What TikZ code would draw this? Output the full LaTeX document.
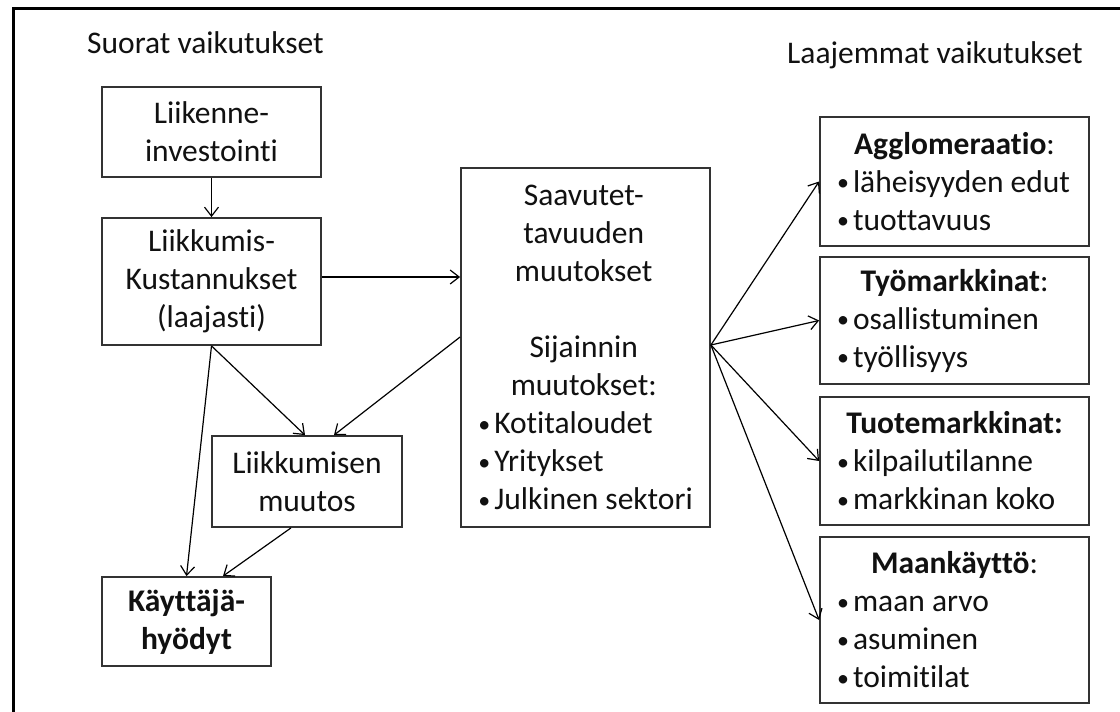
\documentclass[tikz,border=0pt]{standalone}
\usepackage{fontspec}
\setmainfont{Carlito}[Ligatures={NoCommon}]
\usetikzlibrary{arrows.meta}
\definecolor{boxgray}{HTML}{333333}
\definecolor{ink}{HTML}{111111}
\newcommand\mybul{\makebox[16pt][l]{\raisebox{1.5pt}{\fontsize{24}{24}\selectfont •}}}
\begin{document}
\begin{tikzpicture}[x=1pt,y=-1pt,
  every node/.style={font=\fontsize{31.5}{38}\selectfont, text=ink},
  box/.style={draw=boxgray, line width=1.8pt, inner sep=0pt, align=center},
  lbox/.style={draw=boxgray, line width=1.8pt, inner sep=0pt, align=left},
  title/.style={inner sep=0pt, anchor=base west},
  arr/.style={draw=black, line width=1.2pt, -{Straight Barb[length=9pt,width=14pt,line width=1.2pt]}}]
\useasboundingbox (0,0) rectangle (1120,712);
\fill[white] (0,0) rectangle (1120,712);
% frame
\draw[line width=3pt] (13,712) -- (13,8) -- (1120,8);
% titles
\node[title] (t1) at (87,53) {Suorat vaikutukset};
\node[title] (t2) at (787,63) {Laajemmat vaikutukset};
% left column
\node[box, minimum width=219pt, minimum height=90pt] (inv) at (211.5,132) {Liikenne-\\investointi};
\node[box, minimum width=219pt, minimum height=127pt] (kus) at (211.5,281.5) {Liikkumis-\\Kustannukset\\(laajasti)};
\node[box, minimum width=190pt, minimum height=91pt] (liik) at (307,481.5) {Liikkumisen\\muutos};
\node[box, minimum width=169pt, minimum height=89pt, font=\fontsize{31.5}{38}\selectfont\bfseries] (kay) at (186.5,621.5) {Käyttäjä-\\hyödyt};
% middle
\node[lbox, minimum width=249pt, minimum height=359pt] (saav) at (585.5,347.5)
 {\makebox[211pt][c]{Saavutet-}\\\makebox[211pt][c]{tavuuden}\\\makebox[211pt][c]{muutokset}\\[38pt]%
  \makebox[211pt][c]{Sijainnin}\\\makebox[211pt][c]{muutokset:}\\\mybul Kotitaloudet\\\mybul Yritykset\\\mybul Julkinen sektori};
% right column
\node[lbox, minimum width=269pt, minimum height=129pt] (agg) at (954.5,181.5)
 {\makebox[235pt][c]{\textbf{Agglomeraatio}:}\\\mybul läheisyyden edut\\\mybul tuottavuus};
\node[lbox, minimum width=269pt, minimum height=127pt] (tyo) at (954.5,320.5)
 {\makebox[235pt][c]{\textbf{Työmarkkinat}:}\\\mybul osallistuminen\\\mybul työllisyys};
\node[lbox, minimum width=269pt, minimum height=128pt] (tuo) at (954.5,461)
 {\makebox[235pt][c]{\textbf{Tuotemarkkinat:}}\\\mybul kilpailutilanne\\\mybul markkinan koko};
\node[lbox, minimum width=269pt, minimum height=166pt] (maa) at (954.5,620)
 {\makebox[235pt][c]{\textbf{Maankäyttö}:}\\\mybul maan arvo\\\mybul asuminen\\\mybul toimitilat};
% connectors
\draw[arr] (inv.south) -- (kus.north);
\draw[arr] ([yshift=4.5pt]kus.east) -- ([yshift=4.5pt]saav.west |- kus.east);
\draw[arr] (kus.south) -- (kay.north);
\draw[arr] (kus.south) -- ([xshift=-2pt]liik.north);
\draw[arr] ([yshift=10.5pt]saav.west) -- ([xshift=27pt]liik.north);
\draw[arr] ([xshift=-16pt]liik.south) -- ([xshift=36.5pt]kay.north);
\coordinate (hub) at ([yshift=2.5pt]saav.east);
\draw[arr] (hub) -- (agg.west);
\draw[arr] (hub) -- (tyo.west);
\draw[arr] (hub) -- (tuo.west);
\draw[arr] (hub) -- (maa.west);
\end{tikzpicture}
\end{document}
